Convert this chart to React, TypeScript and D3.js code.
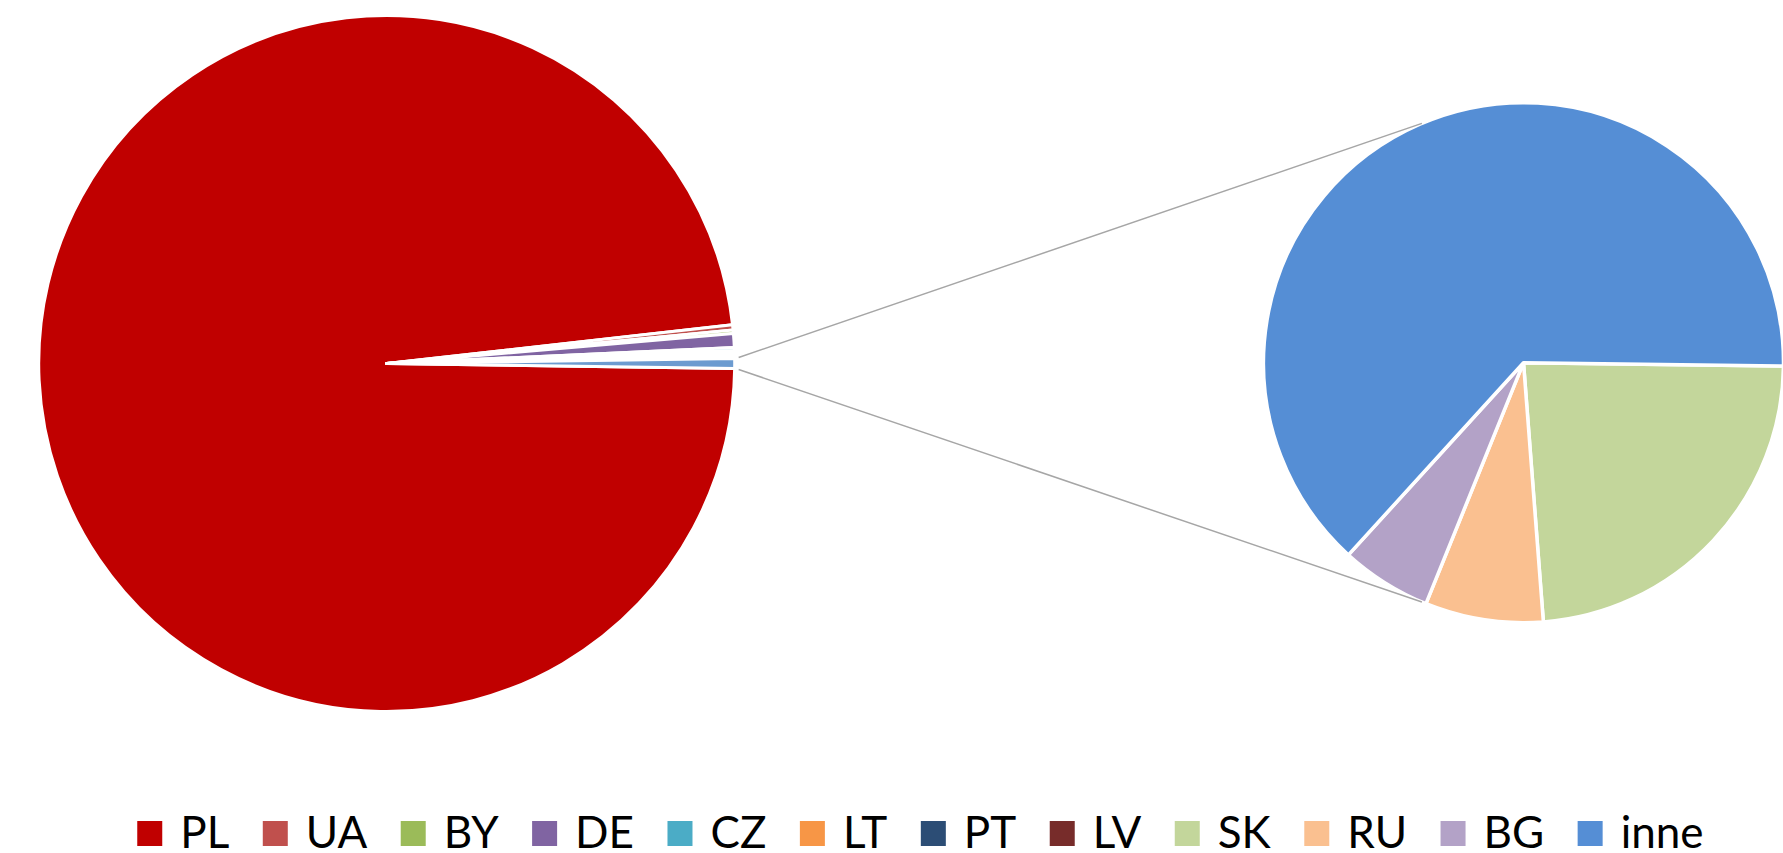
import React from 'react';
import * as d3 from 'd3';

// main pie categories (share of total, %)
const mainLabels = ['PL', 'UA', 'BY', 'DE', 'CZ', 'LT', 'PT', 'LV'];
const mainValues = [98.0, 0.24, 0.16, 0.645, 0.14, 0.13, 0.12, 0.115];
const mainColors = ['#C00000', '#C0504D', '#9BBB59', '#8064A2', '#4BACC6', '#F79646', '#2C4D75', '#772C2A'];

// secondary pie ("other" split)
const secLabels = ['SK', 'RU', 'BG', 'inne'];
const secValues = [0.1054, 0.0328, 0.0252, 0.2836];
const secColors = ['#C3D69B', '#FAC090', '#B3A2C7', '#558ED5'];

const otherColor = '#6C9BD0';

interface Slice {
  label: string;
  value: number;
  color: string;
}

export default function App() {
  const ref = React.useRef<SVGSVGElement>(null);

  React.useEffect(() => {
    const width = 1783;
    const height = 853;
    const main = { cx: 386.7, cy: 363.5, r: 348 };
    const sec = { cx: 1523.5, cy: 362.7, r: 260 };

    const svg = d3.select(ref.current);
    svg.selectAll('*').remove();
    svg.attr('width', width).attr('height', height);

    const otherValue = d3.sum(secValues);
    const total = d3.sum(mainValues) + otherValue;
    const otherAngle = (2 * Math.PI * otherValue) / total;

    const mainData: Slice[] = mainLabels.map((l, i) => ({ label: l, value: mainValues[i], color: mainColors[i] }));
    mainData.push({ label: 'other', value: otherValue, color: otherColor });

    const secData: Slice[] = secLabels.map((l, i) => ({ label: l, value: secValues[i], color: secColors[i] }));

    // main pie: "other" slice centred on 3 o'clock
    const mainStart = Math.PI / 2 + otherAngle / 2;
    const mainPie = d3.pie<Slice>().sort(null).value(d => d.value)
      .startAngle(mainStart).endAngle(mainStart + 2 * Math.PI);
    const mainArc = d3.arc<d3.PieArcDatum<Slice>>().innerRadius(0).outerRadius(main.r);

    svg.append('g')
      .attr('transform', `translate(${main.cx},${main.cy})`)
      .selectAll('path')
      .data(mainPie(mainData))
      .enter()
      .append('path')
      .attr('d', mainArc)
      .style('fill', d => d.data.color)
      .style('stroke', '#fff')
      .style('stroke-width', 3)
      .style('stroke-linejoin', 'round');

    // secondary pie
    const secStart = Math.PI / 2 + (0.73 * Math.PI) / 180;
    const secPie = d3.pie<Slice>().sort(null).value(d => d.value)
      .startAngle(secStart).endAngle(secStart + 2 * Math.PI);
    const secArc = d3.arc<d3.PieArcDatum<Slice>>().innerRadius(0).outerRadius(sec.r);

    svg.append('g')
      .attr('transform', `translate(${sec.cx},${sec.cy})`)
      .selectAll('path')
      .data(secPie(secData))
      .enter()
      .append('path')
      .attr('d', secArc)
      .style('fill', d => d.data.color)
      .style('stroke', '#fff')
      .style('stroke-width', 3.5)
      .style('stroke-linejoin', 'round');

    // connector lines
    const pt = (c: { cx: number; cy: number }, r: number, a: number) =>
      [c.cx + r * Math.sin(a), c.cy - r * Math.cos(a)];
    const half = otherAngle / 2 + 0.003;
    const conn = (23 * Math.PI) / 180;
    const lines = [
      [pt(main, main.r + 4, Math.PI / 2 - half), pt(sec, sec.r, -conn)],
      [pt(main, main.r + 4, Math.PI / 2 + half), pt(sec, sec.r, Math.PI + conn)],
    ];
    svg.append('g')
      .selectAll('line')
      .data(lines)
      .enter()
      .append('line')
      .attr('x1', d => d[0][0])
      .attr('y1', d => d[0][1])
      .attr('x2', d => d[1][0])
      .attr('y2', d => d[1][1])
      .style('stroke', '#A6A6A6')
      .style('stroke-width', 1.5);

    // legend
    const legendData = [...mainLabels, ...secLabels].map((l, i) => ({
      label: l,
      color: [...mainColors, ...secColors][i],
    }));
    const box = 25;
    const textGap = 18;
    const itemGap = 33.5;
    const legend = svg.append('g');
    const items = legend.selectAll('g')
      .data(legendData)
      .enter()
      .append('g');
    items.append('rect')
      .attr('y', 821)
      .attr('width', box)
      .attr('height', box)
      .style('fill', d => d.color);
    const texts = items.append('text')
      .attr('x', box + textGap)
      .attr('y', 848)
      .style('font-family', 'Lato, "Open Sans", sans-serif')
      .style('font-size', '44px')
      .style('fill', '#000')
      .text(d => d.label);

    const widths: number[] = [];
    texts.each(function () {
      widths.push((this as SVGTextElement).getComputedTextLength());
    });
    const itemW = widths.map(w => box + textGap + w);
    const totalW = d3.sum(itemW) + itemGap * (itemW.length - 1);
    let x = 920.4 - totalW / 2;
    const xs: number[] = [];
    itemW.forEach(w => {
      xs.push(x);
      x += w + itemGap;
    });
    items.attr('transform', (_d, i) => `translate(${xs[i]},0)`);
  }, []);

  return (
    <div style={{ position: 'absolute', left: 0, top: 0 }}>
      <svg ref={ref} style={{ display: 'block' }} />
    </div>
  );
}
